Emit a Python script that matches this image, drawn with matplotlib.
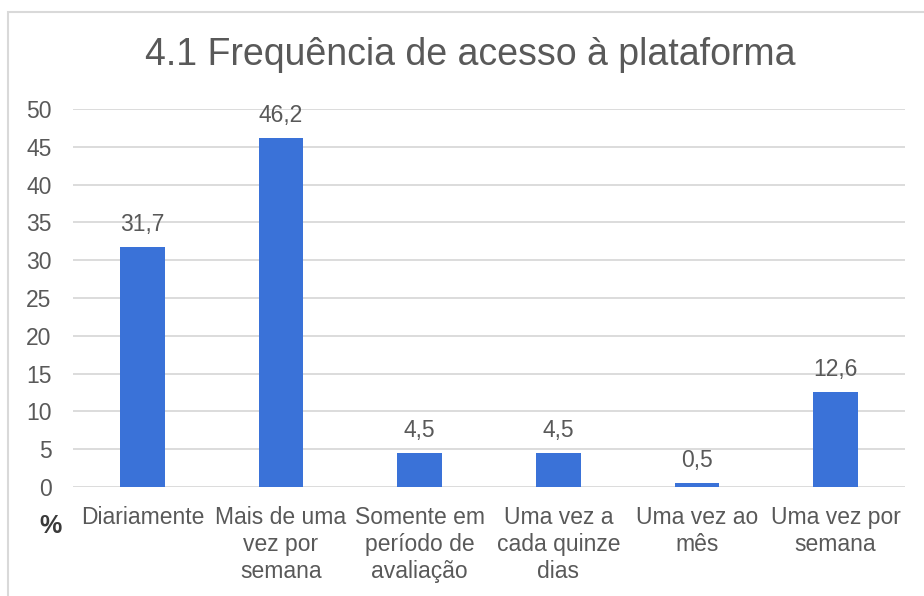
import matplotlib
matplotlib.use("Agg")
import matplotlib.pyplot as plt
from matplotlib.patches import Rectangle

TITLE = "4.1 Frequência de acesso à plataforma"
categories = ["Diariamente", "Mais de uma\nvez por\nsemana", "Somente em\nperíodo de\navaliação",
              "Uma vez a\ncada quinze\ndias", "Uma vez ao\nmês", "Uma vez por\nsemana"]
values = [31.7, 46.2, 4.5, 4.5, 0.5, 12.6]
yticks = [0, 5, 10, 15, 20, 25, 30, 35, 40, 45, 50]

TEXT = "#595959"
BAR = "#3A72D8"
GRID = "#D9D9D9"

plt.rcParams['font.family'] = ['Liberation Sans', 'DejaVu Sans']

fig = plt.figure(figsize=(9.24, 5.96), dpi=100)
ax = fig.add_axes([73 / 924, 1 - 487 / 596, 832 / 924, 378 / 596])

x = list(range(len(categories)))
bars = ax.bar(x, values, width=0.32, color=BAR, zorder=3)

for b, v in zip(bars, values):
    ax.annotate(f"{v:.1f}".replace(".", ","), (b.get_x() + b.get_width() / 2, v),
                xytext=(0, 8), textcoords="offset points", ha="center", va="bottom",
                fontsize=16.5, color=TEXT)

ax.set_xlim(-0.5, len(categories) - 0.5)
ax.set_ylim(0, 50)
ax.set_yticks(yticks)
ax.set_xticks(x)
ax.set_xticklabels(categories, linespacing=1.2)
ax.tick_params(axis="both", length=0, labelsize=16.5, labelcolor=TEXT)
ax.tick_params(axis="y", pad=15.5)
ax.tick_params(axis="x", pad=14)
ax.grid(axis="y", color=GRID, linewidth=1.3, zorder=0)
for s in ax.spines.values():
    s.set_visible(False)

fig.text(470 / 924, 1 - 55 / 596, TITLE, ha="center", va="center", fontsize=27, color=TEXT)
fig.text(51 / 924, 1 - 526 / 596, "%", ha="center", va="center", fontsize=18, color="#3A3A3A",
         fontweight="bold")

# light frame around the chart area (only left and top visible)
fig.add_artist(Rectangle((8 / 924, -0.1), 1.2, 1 - 12 / 596 + 0.1, transform=fig.transFigure,
                         fill=False, edgecolor="#D9D9D9", linewidth=1.5))

fig.savefig("out.png", dpi=100)
